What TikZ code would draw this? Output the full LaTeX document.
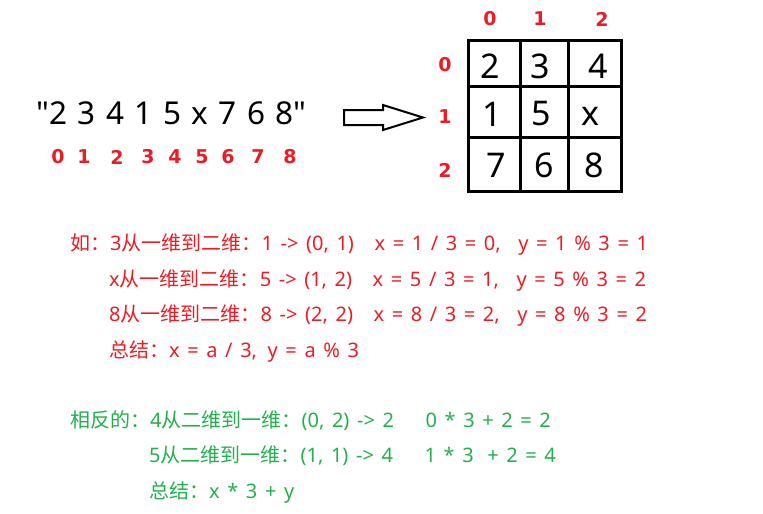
\documentclass[tikz,border=0pt]{standalone}
\usepackage{fontspec}
\setmainfont{Noto Sans}
\newfontfamily\cjk{Noto Sans CJK SC}
\newfontfamily\strfont{Noto Sans}[Ligatures=TeXOff]
\newfontfamily\handfont{DejaVu Sans}
\definecolor{myred}{RGB}{237,28,36}
\definecolor{mygreen}{RGB}{34,177,76}
\newcommand\widesp{\spaceskip=7.6pt\relax}
\newcommand\strsp{\spaceskip=10.5pt\relax}
\tikzset{
  cell/.style={font=\fontsize{34}{36}\selectfont, inner sep=0pt},
  hand/.style={text=myred, font=\handfont\fontsize{19}{20}\selectfont\bfseries, inner sep=0pt},
  txtline/.style={font=\fontsize{20}{22}\selectfont, execute at begin node=\widesp, anchor=west, inner sep=0pt},
  redline/.style={txtline, text=myred},
  greenline/.style={txtline, text=mygreen},
  gridline/.style={line width=3pt, black},
  blockarrow/.style={line width=2pt, black, line join=miter}
}
\begin{document}
\begin{tikzpicture}[x=1pt,y=-1pt]
\useasboundingbox (0,0) rectangle (763,514);
% string
\node[font=\strfont\fontsize{31.5}{34}\selectfont, execute at begin node=\strsp, anchor=west, inner sep=0pt] (str) at (36,113)
  {"2 3 4 1 5 x 7 6 8"};
% handwritten indices
\foreach \d/\x in {0/58,1/84,2/117,3/148,4/175,5/202,6/228,7/258,8/290}
  \node[hand] (i\d) at (\x,157) {\d};
% block arrow
\draw[blockarrow] (344,110) -- (383,110) -- (383,105) -- (423,117.5) -- (383,130) -- (383,125) -- (344,125) -- cycle;
% grid
\draw[gridline] (468,40) rectangle (621,191);
\draw[gridline] (520,40) -- (520,191) (568,40) -- (568,191);
\draw[gridline] (468,86) -- (621,86) (468,137) -- (621,137);
\node[cell] (c00) at (490,66) {2};
\node[cell] (c01) at (540,66) {3};
\node[cell] (c02) at (598,66) {4};
\node[cell] (c10) at (492,114) {1};
\node[cell] (c11) at (541,114) {5};
\node[cell] (c12) at (590,116) {x};
\node[cell] (c20) at (496,165) {7};
\node[cell] (c21) at (544,165) {6};
\node[cell] (c22) at (594,165) {8};
% row/col labels
\node[hand] (col0) at (490,19) {0};
\node[hand] (col1) at (540,19) {1};
\node[hand] (col2) at (602,19) {2};
\node[hand] (row0) at (445,65) {0};
\node[hand] (row1) at (445,117) {1};
\node[hand] (row2) at (445,170) {2};
% red text
\node[redline] (r1) at (70,245) {{\cjk 如：}3{\cjk 从一维到二维：}1 -> (0, 1)\hspace{13pt} x = 1 / 3 = 0,\hspace{10pt} y = 1 \% 3 = 1};
\node[redline] (r2) at (109,281) {x{\cjk 从一维到二维：}5 -> (1, 2)\hspace{13pt} x = 5 / 3 = 1,\hspace{10pt} y = 5 \% 3 = 2};
\node[redline] (r3) at (109,316) {8{\cjk 从一维到二维：}8 -> (2, 2)\hspace{13pt} x = 8 / 3 = 2,\hspace{10pt} y = 8 \% 3 = 2};
\node[redline] (r4) at (109,351) {{\cjk 总结：}x = a / 3,\hspace{3pt} y = a \% 3};
% green text
\node[greenline] (g1) at (70,421) {{\cjk 相反的：}4{\cjk 从二维到一维：}(0, 2) -> 2\hspace{24pt} 0 * 3 + 2 = 2};
\node[greenline] (g2) at (149,456) {5{\cjk 从二维到一维：}(1, 1) -> 4\hspace{24pt} 1 * 3\hspace{6pt} + 2 = 4};
\node[greenline] (g3) at (149,492) {{\cjk 总结：}x * 3 + y};
\end{tikzpicture}
\end{document}
